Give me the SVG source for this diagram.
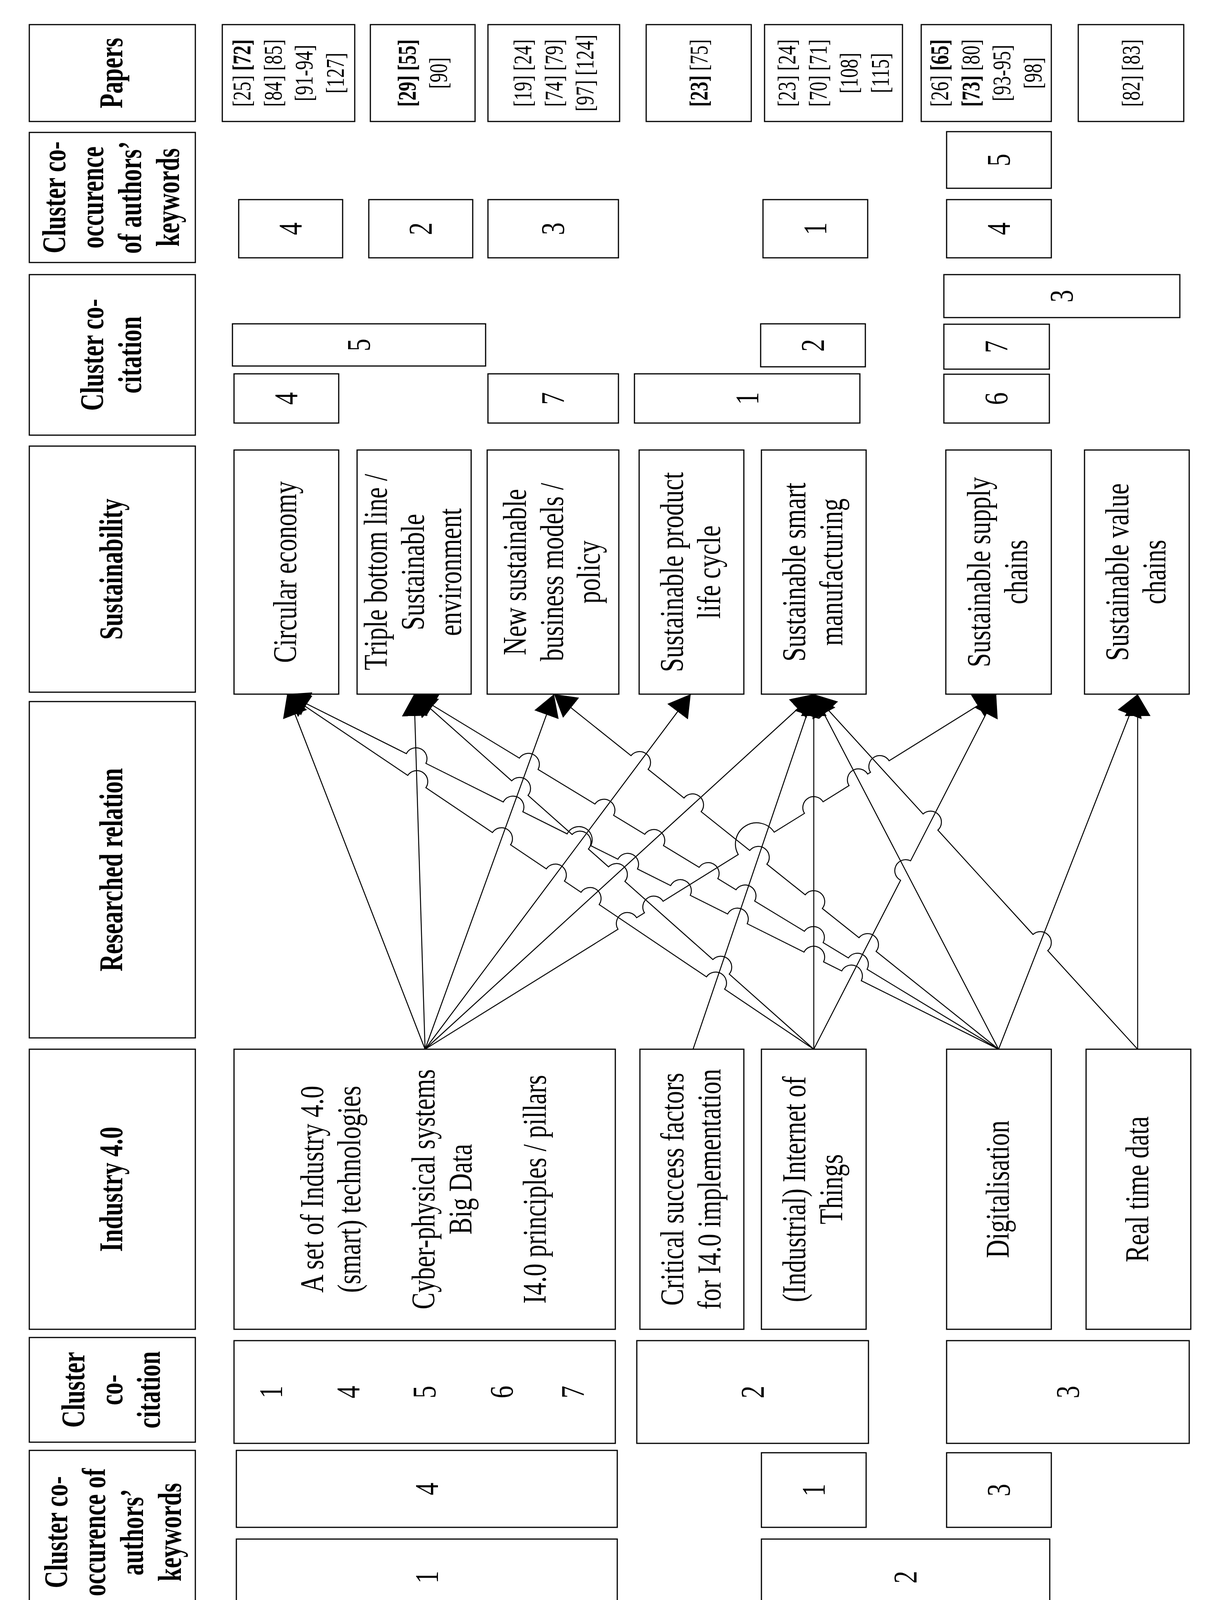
<svg xmlns="http://www.w3.org/2000/svg" width="3110" height="4517" viewBox="0 0 3110 4517">
<defs>
<style>
.box{fill:#fff;stroke:#000;stroke-width:3}
.t{font-family:"Liberation Serif","Times New Roman",serif;font-size:84px;text-anchor:middle;fill:#000}
.h{font-weight:bold}
.p{font-size:66px}
.b{font-weight:bold}
.conn{fill:none;stroke:#000;stroke-width:2.5;marker-end:url(#arr)}
</style>
<marker id="arr" markerUnits="userSpaceOnUse" markerWidth="56" markerHeight="66" viewBox="0 0 56 66" refX="56" refY="33" orient="auto">
<path d="M0,0 L56,33 L0,66 Z" fill="#000"/>
</marker>
</defs>
<rect x="0" y="0" width="3110" height="4517" fill="#fff"/>

<!-- Header column -->
<g id="hdr-papers-top"><rect class="box" x="75" y="63" width="425" height="248"/>
<text class="t h" transform="translate(287.5,187) rotate(-90) scale(0.73,1)"><tspan x="0" y="25">Papers</tspan></text></g>
<g id="hdr-cooc-top"><rect class="box" x="75" y="339" width="425" height="333"/>
<text class="t h" transform="translate(287.5,505.5) rotate(-90) scale(0.73,1)"><tspan x="0" y="-120.5">Cluster co-</tspan><tspan x="0" y="-23.5">occurence</tspan><tspan x="0" y="73.5">of authors’</tspan><tspan x="0" y="170.5">keywords</tspan></text></g>
<g id="hdr-cocit-top"><rect class="box" x="75" y="703" width="425" height="411"/>
<text class="t h" transform="translate(287.5,908.5) rotate(-90) scale(0.73,1)"><tspan x="0" y="-23.5">Cluster co-</tspan><tspan x="0" y="73.5">citation</tspan></text></g>
<g id="hdr-sustainability"><rect class="box" x="75" y="1142" width="425" height="630"/>
<text class="t h" transform="translate(287.5,1457) rotate(-90) scale(0.73,1)"><tspan x="0" y="25">Sustainability</tspan></text></g>
<g id="hdr-relation"><rect class="box" x="75" y="1796" width="425" height="861"/>
<text class="t h" transform="translate(287.5,2226.5) rotate(-90) scale(0.73,1)"><tspan x="0" y="25">Researched relation</tspan></text></g>
<g id="hdr-industry"><rect class="box" x="75" y="2686" width="425" height="717"/>
<text class="t h" transform="translate(287.5,3044.5) rotate(-90) scale(0.73,1)"><tspan x="0" y="25">Industry 4.0</tspan></text></g>
<g id="hdr-cocit-bottom"><rect class="box" x="75" y="3424" width="425" height="268"/>
<text class="t h" transform="translate(287.5,3558) rotate(-90) scale(0.73,1)"><tspan x="0" y="-72">Cluster</tspan><tspan x="0" y="25">co-</tspan><tspan x="0" y="122">citation</tspan></text></g>
<g id="hdr-cooc-bottom"><rect class="box" x="75" y="3713" width="425" height="419"/>
<text class="t h" transform="translate(287.5,3922.5) rotate(-90) scale(0.73,1)"><tspan x="0" y="-115.5">Cluster co-</tspan><tspan x="0" y="-18.5">occurence of</tspan><tspan x="0" y="78.5">authors’</tspan><tspan x="0" y="175.5">keywords</tspan></text></g>
<g id="hdr-papers-bottom"><rect class="box" x="75" y="4162" width="425" height="304"/>
<text class="t h" transform="translate(287.5,4314) rotate(-90) scale(0.73,1)"><tspan x="0" y="25">Papers</tspan></text></g>

<!-- Top papers -->
<g id="tp1"><rect class="box" x="569" y="63" width="339" height="248"/>
<text class="t p" transform="translate(738.5,187) rotate(-90) scale(0.73,1)"><tspan x="0" y="-98">[25] <tspan class="b">[72]</tspan></tspan><tspan x="0" y="-18">[84] [85]</tspan><tspan x="0" y="62">[91-94]</tspan><tspan x="0" y="142">[127]</tspan></text></g>
<g id="tp2"><rect class="box" x="948" y="63" width="268" height="248"/>
<text class="t p" transform="translate(1082,187) rotate(-90) scale(0.73,1)"><tspan x="0" y="-18"><tspan class="b">[29]</tspan> <tspan class="b">[55]</tspan></tspan><tspan x="0" y="62">[90]</tspan></text></g>
<g id="tp3"><rect class="box" x="1249" y="63" width="337" height="248"/>
<text class="t p" transform="translate(1417.5,187) rotate(-90) scale(0.73,1)"><tspan x="0" y="-58">[19] [24]</tspan><tspan x="0" y="22">[74] [79]</tspan><tspan x="0" y="102">[97] [124]</tspan></text></g>
<g id="tp4"><rect class="box" x="1654" y="63" width="269" height="248"/>
<text class="t p" transform="translate(1788.5,187) rotate(-90) scale(0.73,1)"><tspan x="0" y="22"><tspan class="b">[23]</tspan> [75]</tspan></text></g>
<g id="tp5"><rect class="box" x="1957" y="63" width="353" height="248"/>
<text class="t p" transform="translate(2133.5,187) rotate(-90) scale(0.73,1)"><tspan x="0" y="-98">[23] [24]</tspan><tspan x="0" y="-18">[70] [71]</tspan><tspan x="0" y="62">[108]</tspan><tspan x="0" y="142">[115]</tspan></text></g>
<g id="tp6"><rect class="box" x="2358" y="63" width="333" height="248"/>
<text class="t p" transform="translate(2524.5,187) rotate(-90) scale(0.73,1)"><tspan x="0" y="-98">[26] <tspan class="b">[65]</tspan></tspan><tspan x="0" y="-18"><tspan class="b">[73]</tspan> [80]</tspan><tspan x="0" y="62">[93-95]</tspan><tspan x="0" y="142">[98]</tspan></text></g>
<g id="tp7"><rect class="box" x="2760" y="63" width="270" height="248"/>
<text class="t p" transform="translate(2895,187) rotate(-90) scale(0.73,1)"><tspan x="0" y="22">[82] [83]</tspan></text></g>

<!-- Top co-occurrence clusters -->
<g id="tk1"><rect class="box" x="611" y="511" width="266" height="149"/>
<text class="t" transform="translate(744,585.5) rotate(-90) scale(0.77,1)"><tspan x="0" y="28">4</tspan></text></g>
<g id="tk2"><rect class="box" x="944" y="511" width="266" height="149"/>
<text class="t" transform="translate(1077,585.5) rotate(-90) scale(0.77,1)"><tspan x="0" y="28">2</tspan></text></g>
<g id="tk3"><rect class="box" x="1249" y="511" width="334" height="149"/>
<text class="t" transform="translate(1416,585.5) rotate(-90) scale(0.77,1)"><tspan x="0" y="28">3</tspan></text></g>
<g id="tk4"><rect class="box" x="1953" y="511" width="268" height="149"/>
<text class="t" transform="translate(2087,585.5) rotate(-90) scale(0.77,1)"><tspan x="0" y="28">1</tspan></text></g>
<g id="tk5"><rect class="box" x="2423" y="511" width="268" height="149"/>
<text class="t" transform="translate(2557,585.5) rotate(-90) scale(0.77,1)"><tspan x="0" y="28">4</tspan></text></g>
<g id="tk6"><rect class="box" x="2423" y="337" width="268" height="145"/>
<text class="t" transform="translate(2557,409.5) rotate(-90) scale(0.77,1)"><tspan x="0" y="28">5</tspan></text></g>

<!-- Top co-citation clusters -->
<g id="tc1"><rect class="box" x="599" y="957" width="268" height="126"/>
<text class="t" transform="translate(733,1020) rotate(-90) scale(0.77,1)"><tspan x="0" y="28">4</tspan></text></g>
<g id="tc2"><rect class="box" x="595" y="829" width="648" height="108"/>
<text class="t" transform="translate(919,883) rotate(-90) scale(0.77,1)"><tspan x="0" y="28">5</tspan></text></g>
<g id="tc3"><rect class="box" x="1249" y="957" width="334" height="126"/>
<text class="t" transform="translate(1416,1020) rotate(-90) scale(0.77,1)"><tspan x="0" y="28">7</tspan></text></g>
<g id="tc4"><rect class="box" x="1624" y="957" width="577" height="126"/>
<text class="t" transform="translate(1912.5,1020) rotate(-90) scale(0.77,1)"><tspan x="0" y="28">1</tspan></text></g>
<g id="tc5"><rect class="box" x="1947" y="829" width="268" height="110"/>
<text class="t" transform="translate(2081,884) rotate(-90) scale(0.77,1)"><tspan x="0" y="28">2</tspan></text></g>
<g id="tc6"><rect class="box" x="2416" y="958" width="270" height="125"/>
<text class="t" transform="translate(2551,1020.5) rotate(-90) scale(0.77,1)"><tspan x="0" y="28">6</tspan></text></g>
<g id="tc7"><rect class="box" x="2416" y="830" width="270" height="115"/>
<text class="t" transform="translate(2551,887.5) rotate(-90) scale(0.77,1)"><tspan x="0" y="28">7</tspan></text></g>
<g id="tc8"><rect class="box" x="2416" y="703" width="604" height="110"/>
<text class="t" transform="translate(2718,758) rotate(-90) scale(0.77,1)"><tspan x="0" y="28">3</tspan></text></g>

<!-- Sustainability nodes -->
<g id="s-circular"><rect class="box" x="599" y="1152" width="268" height="625"/>
<text class="t" transform="translate(733,1464.5) rotate(-90) scale(0.77,1)"><tspan x="0" y="25">Circular economy</tspan></text></g>
<g id="s-triple"><rect class="box" x="914" y="1152" width="292" height="625"/>
<text class="t" transform="translate(1060,1464.5) rotate(-90) scale(0.77,1)"><tspan x="0" y="-70">Triple bottom line /</tspan><tspan x="0" y="25">Sustainable</tspan><tspan x="0" y="120">environment</tspan></text></g>
<g id="s-business"><rect class="box" x="1247" y="1152" width="337" height="625"/>
<text class="t" transform="translate(1415.5,1464.5) rotate(-90) scale(0.77,1)"><tspan x="0" y="-70">New sustainable</tspan><tspan x="0" y="25">business models /</tspan><tspan x="0" y="120">policy</tspan></text></g>
<g id="s-lifecycle"><rect class="box" x="1636" y="1152" width="268" height="625"/>
<text class="t" transform="translate(1770,1464.5) rotate(-90) scale(0.77,1)"><tspan x="0" y="-22.5">Sustainable product</tspan><tspan x="0" y="72.5">life cycle</tspan></text></g>
<g id="s-manufacturing"><rect class="box" x="1949" y="1152" width="268" height="625"/>
<text class="t" transform="translate(2083,1464.5) rotate(-90) scale(0.77,1)"><tspan x="0" y="-22.5">Sustainable smart</tspan><tspan x="0" y="72.5">manufacturing</tspan></text></g>
<g id="s-supply"><rect class="box" x="2421" y="1152" width="270" height="625"/>
<text class="t" transform="translate(2556,1464.5) rotate(-90) scale(0.77,1)"><tspan x="0" y="-22.5">Sustainable supply</tspan><tspan x="0" y="72.5">chains</tspan></text></g>
<g id="s-value"><rect class="box" x="2776" y="1152" width="268" height="625"/>
<text class="t" transform="translate(2910,1464.5) rotate(-90) scale(0.77,1)"><tspan x="0" y="-22.5">Sustainable value</tspan><tspan x="0" y="72.5">chains</tspan></text></g>

<!-- Industry 4.0 nodes -->
<g id="i-technologies"><rect class="box" x="599" y="2686" width="976" height="717"/>
<text class="t" transform="translate(1087,3044.5) rotate(-90) scale(0.77,1)"><tspan x="0" y="-260">A set of Industry 4.0</tspan><tspan x="0" y="-165">(smart) technologies</tspan><tspan x="0" y="25">Cyber-physical systems</tspan><tspan x="0" y="120">Big Data</tspan><tspan x="0" y="310">I4.0 principles / pillars</tspan></text></g>
<g id="i-csf"><rect class="box" x="1638" y="2686" width="266" height="717"/>
<text class="t" transform="translate(1771,3044.5) rotate(-90) scale(0.77,1)"><tspan x="0" y="-22.5">Critical success factors</tspan><tspan x="0" y="72.5">for I4.0 implementation</tspan></text></g>
<g id="i-iot"><rect class="box" x="1949" y="2686" width="268" height="717"/>
<text class="t" transform="translate(2083,3044.5) rotate(-90) scale(0.77,1)"><tspan x="0" y="-22.5">(Industrial) Internet of</tspan><tspan x="0" y="72.5">Things</tspan></text></g>
<g id="i-digital"><rect class="box" x="2423" y="2686" width="268" height="717"/>
<text class="t" transform="translate(2557,3044.5) rotate(-90) scale(0.77,1)"><tspan x="0" y="25">Digitalisation</tspan></text></g>
<g id="i-realtime"><rect class="box" x="2780" y="2686" width="268" height="717"/>
<text class="t" transform="translate(2914,3044.5) rotate(-90) scale(0.77,1)"><tspan x="0" y="25">Real time data</tspan></text></g>

<!-- Bottom co-citation clusters -->
<g id="bc1"><rect class="box" x="599" y="3432" width="976" height="263"/>
<text class="t" transform="translate(694,3563.5) rotate(-90) scale(0.77,1)"><tspan x="0" y="28">1</tspan></text>
<text class="t" transform="translate(892,3563.5) rotate(-90) scale(0.77,1)"><tspan x="0" y="28">4</tspan></text>
<text class="t" transform="translate(1087,3563.5) rotate(-90) scale(0.77,1)"><tspan x="0" y="28">5</tspan></text>
<text class="t" transform="translate(1285,3563.5) rotate(-90) scale(0.77,1)"><tspan x="0" y="28">6</tspan></text>
<text class="t" transform="translate(1467,3563.5) rotate(-90) scale(0.77,1)"><tspan x="0" y="28">7</tspan></text></g>
<g id="bc2"><rect class="box" x="1630" y="3432" width="593" height="263"/>
<text class="t" transform="translate(1926.5,3563.5) rotate(-90) scale(0.77,1)"><tspan x="0" y="28">2</tspan></text></g>
<g id="bc3"><rect class="box" x="2423" y="3432" width="621" height="263"/>
<text class="t" transform="translate(2733.5,3563.5) rotate(-90) scale(0.77,1)"><tspan x="0" y="28">3</tspan></text></g>

<!-- Bottom co-occurrence clusters -->
<g id="bk1"><rect class="box" x="605" y="3713" width="975" height="197"/>
<text class="t" transform="translate(1092.5,3811.5) rotate(-90) scale(0.77,1)"><tspan x="0" y="28">4</tspan></text></g>
<g id="bk2"><rect class="box" x="605" y="3940" width="975" height="195"/>
<text class="t" transform="translate(1092.5,4037.5) rotate(-90) scale(0.77,1)"><tspan x="0" y="28">1</tspan></text></g>
<g id="bk3"><rect class="box" x="1949" y="3719" width="268" height="191"/>
<text class="t" transform="translate(2083,3814.5) rotate(-90) scale(0.77,1)"><tspan x="0" y="28">1</tspan></text></g>
<g id="bk4"><rect class="box" x="2423" y="3719" width="268" height="191"/>
<text class="t" transform="translate(2557,3814.5) rotate(-90) scale(0.77,1)"><tspan x="0" y="28">3</tspan></text></g>
<g id="bk5"><rect class="box" x="1949" y="3940" width="738" height="195"/>
<text class="t" transform="translate(2318,4037.5) rotate(-90) scale(0.77,1)"><tspan x="0" y="28">2</tspan></text></g>

<!-- Bottom papers -->
<g id="bp1"><rect class="box" x="589" y="4162" width="978" height="306"/>
<text class="t p" transform="translate(1078,4315) rotate(-90) scale(0.73,1)"><tspan x="0" y="-58"><tspan class="b">[23]</tspan> [24]</tspan><tspan x="0" y="22">[25] <tspan class="b">[72]</tspan></tspan><tspan x="0" y="102">[75] [84]</tspan></text></g>
<g id="bp2"><rect class="box" x="1622" y="4162" width="268" height="306"/>
<text class="t p" transform="translate(1756,4315) rotate(-90) scale(0.73,1)"><tspan x="0" y="-18">[56] <tspan class="b">[70]</tspan></tspan><tspan x="0" y="62">[78]</tspan></text></g>
<g id="bp3"><rect class="box" x="1949" y="4162" width="361" height="306"/>
<text class="t p" transform="translate(2129.5,4315) rotate(-90) scale(0.73,1)"><tspan x="0" y="-98">[28] [71]</tspan><tspan x="0" y="-18">[79] [108-</tspan><tspan x="0" y="62">110] [119-</tspan><tspan x="0" y="142">121]</tspan></text></g>
<g id="bp4"><rect class="box" x="2360" y="4162" width="337" height="306"/>
<text class="t p" transform="translate(2528.5,4315) rotate(-90) scale(0.73,1)"><tspan x="0" y="-98">[27] <tspan class="b">[65]</tspan></tspan><tspan x="0" y="-18">[79-83] [90]</tspan><tspan x="0" y="62">[116] [124]</tspan><tspan x="0" y="142">[125]</tspan></text></g>
<g id="bp5"><rect class="box" x="2782" y="4162" width="268" height="306"/>
<text class="t p" transform="translate(2916,4315) rotate(-90) scale(0.73,1)"><tspan x="0" y="22">[81]</tspan></text></g>

<!-- Connectors -->
<g id="connectors">
<path class="conn" d="M1088,2686 L735,1777"/>
<path class="conn" d="M1088,2686 L1060,1777"/>
<path class="conn" d="M1088,2686 L1418,1777"/>
<path class="conn" d="M1088,2686 L1768,1777"/>
<path class="conn" d="M1088,2686 L2083,1777"/>
<path class="conn" d="M1088,2686 L1581.9,2378.9 A28,28 0 0 1 1629.5,2349.3 L1649.6,2336.8 A28,28 0 0 1 1697.2,2307.2 L1889.7,2187.6 A54.2,54.2 0 0 1 1981.7,2130.4 L2059.2,2082.2 A28,28 0 0 1 2106.8,2052.6 L2173.3,2011.1 A28,28 0 0 1 2220.9,1981.5 L2228.2,1977.1 A28,28 0 0 1 2275.8,1947.5 L2550,1777"/>
<path class="conn" d="M1774,2686 L2083,1777"/>
<path class="conn" d="M2083,2686 L1854.8,2532.2 A28,28 0 0 0 1808.4,2500.8 L1533.7,2315.7 A28,28 0 0 0 1487.3,2284.3 L1444.8,2255.7 A28,28 0 0 0 1398.4,2224.3 L1306.9,2162.7 A28,28 0 0 0 1260.5,2131.3 L1090.1,2016.5 A28,28 0 0 0 1043.7,1985.1 L735,1777"/>
<path class="conn" d="M2083,2686 L1866.6,2493.7 A28,28 0 0 0 1824.8,2456.5 L1599.5,2256.4 A28,28 0 0 0 1557.7,2219.2 L1506.2,2173.5 A28,28 0 0 0 1464.4,2136.3 L1351.6,2036.1 A28,28 0 0 0 1309.8,1998.9 L1060,1777"/>
<path class="conn" d="M2083,2686 L2083,1777"/>
<path class="conn" d="M2083,2686 L2305.2,2253.5 A28,28 0 0 1 2330.8,2203.7 L2550,1777"/>
<path class="conn" d="M2556,2686 L2204.7,2510.6 A28,28 0 0 0 2154.6,2485.6 L2108.1,2462.4 A28,28 0 0 0 2058,2437.4 L1912.6,2364.8 A28,28 0 0 0 1862.5,2339.8 L1766.8,2292 A28,28 0 0 0 1716.7,2267 L1631.8,2224.6 A28,28 0 0 0 1581.7,2199.6 L1512.2,2164.9 A33.8,33.8 0 0 0 1451.7,2134.7 L1338.3,2078.1 A28,28 0 0 0 1288.2,2053.1 L1090.2,1954.3 A28,28 0 0 0 1040.1,1929.3 L735,1777"/>
<path class="conn" d="M2556,2686 L2219.4,2481.4 A28,28 0 0 0 2171.6,2452.4 L2106.9,2413.1 A28,28 0 0 0 2059.1,2384.1 L1931.8,2306.7 A28,28 0 0 0 1884,2277.7 L1837.4,2249.4 A28,28 0 0 0 1789.6,2220.4 L1698.3,2164.8 A28,28 0 0 0 1650.5,2135.8 L1570.7,2087.3 A28,28 0 0 0 1522.9,2058.3 L1377.3,1969.8 A28,28 0 0 0 1329.5,1940.8 L1060,1777"/>
<path class="conn" d="M2556,2686 L2242.5,2435.6 A28,28 0 0 0 2198.7,2400.6 L2104.9,2325.7 A28,28 0 0 0 2061.1,2290.7 L1962.9,2212.3 A28,28 0 0 0 1919.1,2177.3 L1794.7,2077.9 A28,28 0 0 0 1750.9,2042.9 L1659,1969.5 A28,28 0 0 0 1615.2,1934.5 L1418,1777"/>
<path class="conn" d="M2556,2686 L2083,1777"/>
<path class="conn" d="M2556,2686 L2912,1777"/>
<path class="conn" d="M2912,2686 L2681.9,2433.6 A28,28 0 0 0 2644.1,2392.2 L2400.6,2125.2 A28,28 0 0 0 2362.8,2083.8 L2083,1777"/>
<path class="conn" d="M2912,2686 L2912,1777"/>
</g>
</svg>
